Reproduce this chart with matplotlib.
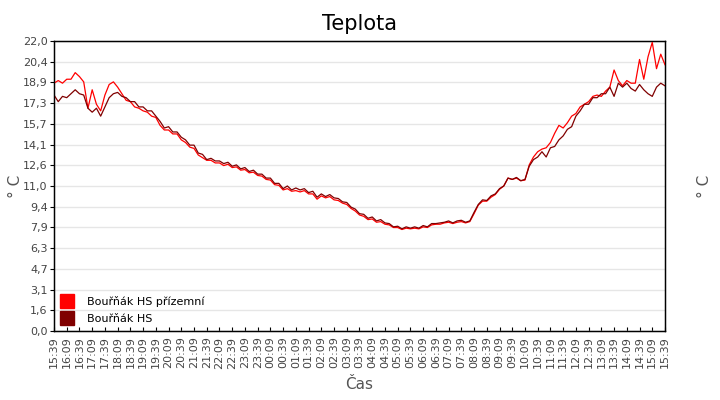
import numpy as np
import matplotlib
matplotlib.use("Agg")
import matplotlib.pyplot as plt
from matplotlib.lines import Line2D

# samples every 10 minutes, 15:39 -> 15:39 next day
step_min = 10

hs_prizemni = [
    18.8, 19.0, 18.8, 19.1, 19.1, 19.6, 19.3, 18.9, 16.9, 18.3,
    17.2, 16.7, 17.9, 18.7, 18.9, 18.5, 18.0, 17.5, 17.4, 17.0,
    16.9, 16.7, 16.6, 16.3, 16.2, 15.6, 15.25, 15.25, 14.95, 14.95,
    14.5, 14.3, 13.95, 13.85, 13.35, 13.15, 12.95, 12.95, 12.75, 12.75,
    12.55, 12.65, 12.4, 12.45, 12.2, 12.25, 12.0, 12.05, 11.8, 11.75,
    11.5, 11.45, 11.1, 11.05, 10.7, 10.8, 10.6, 10.65, 10.55, 10.65,
    10.4, 10.4, 10.0, 10.25, 10.1, 10.2, 9.95, 9.9, 9.7, 9.6,
    9.3, 9.1, 8.8, 8.7, 8.45, 8.5, 8.25, 8.3, 8.1, 8.05,
    7.85, 7.85, 7.7, 7.8, 7.75, 7.8, 7.75, 7.9, 7.85, 8.05,
    8.1, 8.1, 8.2, 8.25, 8.15, 8.25, 8.3, 8.2, 8.3, 8.9,
    9.55, 9.85, 9.85, 10.15, 10.35, 10.75, 11.0, 11.6, 11.5, 11.6,
    11.4, 11.45, 12.6, 13.2, 13.6, 13.8, 13.9, 14.3, 15.0, 15.6,
    15.4, 15.8, 16.3, 16.5, 17.0, 17.2, 17.4, 17.8, 17.9, 17.8,
    18.2, 18.5, 19.8, 19.0, 18.6, 19.0, 18.8, 18.8, 20.6, 19.1,
    20.8, 21.9, 19.9, 21.0, 20.2,
]

hs = [
    17.9, 17.4, 17.8, 17.7, 18.0, 18.3, 18.0, 17.9, 16.9, 16.6,
    16.9, 16.3, 17.0, 17.7, 18.0, 18.1, 17.8, 17.7, 17.4, 17.4,
    17.0, 17.0, 16.7, 16.7, 16.3, 15.9, 15.4, 15.5, 15.1, 15.1,
    14.7, 14.5, 14.1, 14.1, 13.5, 13.4, 13.0, 13.1, 12.9, 12.9,
    12.7, 12.8, 12.5, 12.6, 12.3, 12.4, 12.1, 12.2, 11.9, 11.9,
    11.6, 11.6, 11.2, 11.2, 10.8, 11.0, 10.7, 10.85, 10.7, 10.8,
    10.5, 10.6, 10.15, 10.4, 10.2, 10.35, 10.1, 10.05, 9.8, 9.75,
    9.4, 9.25, 8.9, 8.85, 8.55, 8.65, 8.35, 8.45, 8.2, 8.15,
    7.9, 7.95, 7.75, 7.9, 7.8, 7.9, 7.8, 8.0, 7.9, 8.15,
    8.15, 8.2, 8.25, 8.35, 8.2, 8.35, 8.4, 8.25, 8.35, 9.0,
    9.6, 9.95, 9.9, 10.25, 10.4, 10.8, 11.0, 11.6, 11.5, 11.65,
    11.4, 11.5, 12.5, 13.0, 13.2, 13.6, 13.2, 13.9, 14.0, 14.5,
    14.8, 15.3, 15.5, 16.3, 16.7, 17.2, 17.2, 17.7, 17.7, 18.0,
    18.0, 18.5, 17.8, 18.8, 18.5, 18.8, 18.4, 18.2, 18.7, 18.3,
    18.0, 17.8, 18.5, 18.8, 18.6,
]

time_labels = [
    "15:39", "16:09", "16:39", "17:09", "17:39", "18:09", "18:39", "19:09",
    "19:39", "20:09", "20:39", "21:09", "21:39", "22:09", "22:39", "23:09",
    "23:39", "00:09", "00:39", "01:09", "01:39", "02:09", "02:39", "03:09",
    "03:39", "04:09", "04:39", "05:09", "05:39", "06:09", "06:39", "07:09",
    "07:39", "08:09", "08:39", "09:09", "09:39", "10:09", "10:39", "11:09",
    "11:39", "12:09", "12:39", "13:09", "13:39", "14:09", "14:39", "15:09",
    "15:39",
]

y_labels = ["0,0", "1,6", "3,1", "4,7", "6,3", "7,9", "9,4", "11,0",
            "12,6", "14,1", "15,7", "17,3", "18,9", "20,4", "22,0"]

series_names = ["Bouřňák HS přízemní", "Bouřňák HS"]
series_colors = ["#ff0000", "#800000"]


def plot():
    fig = plt.figure(figsize=(7.2, 4.0), dpi=100)
    ax = fig.add_axes([0.075, 0.1725, 0.8486, 0.725])

    minutes = np.arange(len(hs)) * step_min
    ax.plot(minutes, hs_prizemni, color=series_colors[0], lw=0.9, zorder=3)
    ax.plot(minutes, hs, color=series_colors[1], lw=0.9, zorder=4)

    ax.set_xlim(0, 1440)
    ax.set_ylim(0, 22)

    yt = np.linspace(0, 22, len(y_labels))
    ax.set_yticks(yt)
    ax.set_yticklabels(y_labels)
    ax.grid(axis="y", color="#e6e6e6", lw=1.0, zorder=0)
    ax.set_axisbelow(True)

    xt = np.arange(len(time_labels)) * 30
    ax.set_xticks(xt)
    ax.set_xticklabels(time_labels, rotation=90)

    ax.tick_params(axis="x", direction="in", length=3, labelsize=8,
                   labelcolor="#444444", pad=4)
    ax.tick_params(axis="y", direction="out", length=3, labelsize=8,
                   labelcolor="#444444", pad=1.5,
                   right=True, labelright=True)
    # right side ticks point into the plot
    for t in ax.yaxis.get_major_ticks():
        t.tick2line.set_marker(matplotlib.markers.TICKLEFT)

    for s in ax.spines.values():
        s.set_color("black")
        s.set_linewidth(1.0)

    ax.set_title("Teplota", fontsize=15, pad=8)
    ax.set_xlabel("Čas", fontsize=11, color="#555555", labelpad=6)
    ax.set_ylabel("° C", fontsize=11, color="#555555")
    ax.yaxis.set_label_coords(-0.05, 0.5)

    ax2 = ax.twinx()
    ax2.set_ylim(0, 22)
    ax2.set_yticks([])
    ax2.set_ylabel("° C", fontsize=11, color="#555555", rotation=90)
    ax2.yaxis.set_label_coords(1.052, 0.5)

    handles = [Line2D([], [], ls="none", marker="s", markersize=10.5,
                      markerfacecolor=c, markeredgecolor=c)
               for c in series_colors]
    ax2.legend(handles, series_names, loc="lower left", frameon=False,
               fontsize=8, handlelength=1.0, handletextpad=1.3,
               labelspacing=0.65, borderaxespad=0.25,
               bbox_to_anchor=(0.0, 0.0))

    fig.savefig("out.png", dpi=100)


def main():
    plot()


if __name__ == "__main__":
    main()
